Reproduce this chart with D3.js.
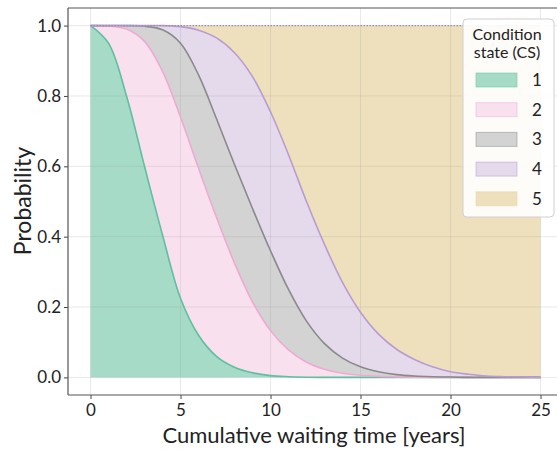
<!DOCTYPE html>
<html>
<head>
<meta charset="utf-8">
<script src="https://cdn.jsdelivr.net/npm/d3@7"></script>
<style>
  body { margin: 0; background: #fff; }
  text { font-family: Lato, "Open Sans", sans-serif; fill: #222; }
</style>
</head>
<body>
<svg id="chart" width="557" height="450"></svg>
<script>
// cumulative probability boundaries, read at t = 0..25 years
var years = d3.range(0, 26);
var cs1 = [1, 0.95, 0.8, 0.6, 0.405, 0.225, 0.12, 0.06, 0.029, 0.013, 0.005, 0.002, 0.0005, 0, 0, 0, 0, 0, 0, 0, 0, 0, 0, 0, 0, 0];
var cs2 = [1, 0.999, 0.99, 0.955, 0.87, 0.74, 0.595, 0.455, 0.325, 0.215, 0.133, 0.078, 0.043, 0.023, 0.012, 0.006, 0.003, 0.0015, 0.0005, 0, 0, 0, 0, 0, 0, 0];
var cs3 = [1, 1, 1, 0.998, 0.988, 0.95, 0.86, 0.735, 0.605, 0.48, 0.36, 0.25, 0.16, 0.096, 0.055, 0.03, 0.016, 0.008, 0.004, 0.002, 0.001, 0, 0, 0, 0, 0];
var cs4 = [1, 1, 1, 1, 1, 0.997, 0.987, 0.965, 0.923, 0.855, 0.755, 0.633, 0.5, 0.378, 0.27, 0.185, 0.123, 0.08, 0.051, 0.03, 0.016, 0.009, 0.004, 0.002, 0.001, 0];
var cs5 = years.map(function() { return 1; });

var xTicks = [0, 5, 10, 15, 20, 25];
var yTicks = [0, 0.2, 0.4, 0.6, 0.8, 1.0];
var labels = ['1', '2', '3', '4', '5'];
var fills = ['#a6dbc8', '#f9e0ef', '#d3d3d3', '#e5d9ec', '#eee0bc'];
var strokes = ['#5fbf9f', '#eeaad3', '#8a8a8a', '#b99cd3', '#e6d3a4'];

var svg = d3.select('#chart');
var pLeft = 68, pRight = 557, pTop = 8, pBottom = 395;

var x = d3.scaleLinear().domain([-1.25, 26.25]).range([pLeft, pLeft + 27.5 * 18]);
var y = d3.scaleLinear().domain([-0.05, 1.05]).range([pBottom, pTop]);

svg.append('clipPath').attr('id', 'clip')
  .append('rect').attr('x', pLeft).attr('y', pTop).attr('width', pRight - pLeft).attr('height', pBottom - pTop);

var plot = svg.append('g').attr('clip-path', 'url(#clip)');

var bounds = [cs1, cs2, cs3, cs4, cs5];
var curve = d3.curveCatmullRom.alpha(0.5);

bounds.forEach(function(b, k) {
  var lower = k === 0 ? years.map(function() { return 0; }) : bounds[k - 1];
  var area = d3.area()
    .x(function(d, i) { return x(years[i]); })
    .y0(function(d, i) { return y(lower[i]); })
    .y1(function(d) { return y(d); })
    .curve(curve);
  plot.append('path').datum(b).attr('d', area).attr('fill', fills[k]);
});

// grid
xTicks.forEach(function(t) {
  plot.append('line').attr('x1', x(t)).attr('x2', x(t)).attr('y1', pTop).attr('y2', pBottom)
    .attr('stroke', '#999').attr('stroke-opacity', 0.22).attr('stroke-width', 1);
});
yTicks.forEach(function(t) {
  plot.append('line').attr('x1', pLeft).attr('x2', pRight).attr('y1', y(t)).attr('y2', y(t))
    .attr('stroke', '#999').attr('stroke-opacity', 0.22).attr('stroke-width', 1);
});

// boundary lines
bounds.slice(0, 4).forEach(function(b, k) {
  var line = d3.line()
    .x(function(d, i) { return x(years[i]); })
    .y(function(d) { return y(d); })
    .curve(curve);
  plot.append('path').datum(b).attr('d', line).attr('fill', 'none')
    .attr('stroke', strokes[k]).attr('stroke-width', 1.6);
});
plot.append('path').datum(cs5)
  .attr('d', d3.line().x(function(d, i) { return x(years[i]); }).y(function(d) { return y(d); }))
  .attr('fill', 'none').attr('stroke', '#9b90a8').attr('stroke-width', 1.3).attr('stroke-dasharray', '1.5,1.5');

// axes
var xAxis = d3.axisBottom(x).tickValues(xTicks).tickSize(4).tickSizeOuter(0).tickPadding(5);
var gx = svg.append('g').attr('transform', 'translate(0,' + pBottom + ')').call(xAxis);
var yAxis = d3.axisLeft(y).tickValues(yTicks).tickSize(4).tickSizeOuter(0).tickPadding(3)
  .tickFormat(d3.format('.1f'));
var gy = svg.append('g').attr('transform', 'translate(' + pLeft + ',0)').call(yAxis);
[gx, gy].forEach(function(g) {
  g.select('.domain').remove();
  g.selectAll('.tick line').attr('stroke', '#444');
  g.selectAll('.tick text').style('font-family', 'Lato, sans-serif').style('font-size', '17px').attr('fill', '#222');
});

// spines
svg.append('line').attr('x1', pLeft).attr('x2', pLeft).attr('y1', pTop).attr('y2', pBottom)
  .attr('stroke', '#555').attr('stroke-width', 1.2);
svg.append('line').attr('x1', pLeft).attr('x2', pRight).attr('y1', pBottom).attr('y2', pBottom)
  .attr('stroke', '#555').attr('stroke-width', 1.2);
svg.append('line').attr('x1', pLeft).attr('x2', pRight).attr('y1', pTop).attr('y2', pTop)
  .attr('stroke', '#555').attr('stroke-width', 1.2);

svg.append('text').attr('x', 314).attr('y', 443)
  .attr('text-anchor', 'middle').style('font-size', '22px').text('Cumulative waiting time [years]');
svg.append('text').attr('transform', 'translate(31,201) rotate(-90)')
  .attr('text-anchor', 'middle').style('font-size', '23px').text('Probability');

// legend
var lg = svg.append('g');
lg.append('rect').attr('x', 463).attr('y', 19).attr('width', 91).attr('height', 198).attr('rx', 4)
  .attr('fill', '#fff').attr('fill-opacity', 0.9).attr('stroke', '#d0d0d0');
lg.append('text').attr('x', 507).attr('y', 40).attr('text-anchor', 'middle').style('font-size', '16px').text('Condition');
lg.append('text').attr('x', 507).attr('y', 58).attr('text-anchor', 'middle').style('font-size', '16px').text('state (CS)');
labels.forEach(function(l, k) {
  var cy = 80 + k * 29.7;
  lg.append('rect').attr('x', 476).attr('y', cy - 7).attr('width', 41).attr('height', 14)
    .attr('fill', fills[k]).attr('stroke', strokes[k]).attr('stroke-opacity', 0.5);
  lg.append('text').attr('x', 537).attr('y', cy + 6).attr('text-anchor', 'middle').style('font-size', '17px').text(l);
});
</script>
</body>
</html>
